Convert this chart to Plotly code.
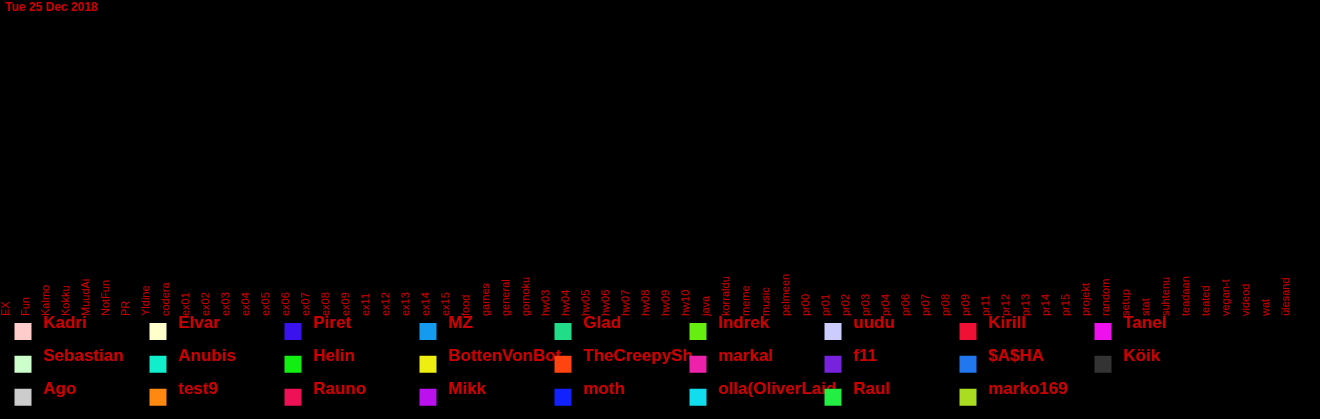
import plotly.graph_objects as go

title_text = "Tue 25 Dec 2018"

categories = [
    "EX", "Fun", "Kalmo", "Kokku", "MuudAi", "NotFun", "PR", "Yldine", "codera",
    "ex01", "ex02", "ex03", "ex04", "ex05", "ex06", "ex07", "ex08", "ex09",
    "ex11", "ex12", "ex13", "ex14", "ex15", "food", "games", "general", "gomoku",
    "hw03", "hw04", "hw05", "hw06", "hw07", "hw08", "hw09", "hw10", "java",
    "korraldu", "meme", "music", "pelmeen", "pr00", "pr01", "pr02", "pr03", "pr04",
    "pr06", "pr07", "pr08", "pr09", "pr11", "pr12", "pr13", "pr14", "pr15",
    "projekt", "random", "setup", "stat", "suhtenu", "teadaan", "teated",
    "vegan-t", "videod", "wat", "ülesand",
]

users = [
    "Kadri", "Elvar", "Piret", "MZ", "Glad", "Indrek", "uudu", "Kirill", "Tanel",
    "Sebastian", "Anubis", "Helin", "BottenVonBot", "TheCreepySh", "markal", "f11", "$A$HA", "Köik",
    "Ago", "test9", "Rauno", "Mikk", "moth", "olla(OliverLaid", "Raul", "marko169",
]

user_colors = [
    "#ffcccc", "#ffffcc", "#3a12ee", "#149bf0", "#22dd88", "#66ee11", "#ccccff", "#ee1133", "#ee11ee",
    "#ccffcc", "#11eecc", "#11ee11", "#eeee11", "#ff4411", "#ee22aa", "#7722dd", "#2277ee", "#333333",
    "#cccccc", "#ff8811", "#ee1155", "#bb11ee", "#1122ff", "#11ddee", "#22ee44", "#aadd22",
]

# Messages per (user, channel) on this day: none were posted
messages = {}

RED = "#cc0000"
FONT = "Liberation Sans, Arial, sans-serif"
AXIS_Y = (419 - 316) / 419

fig = go.Figure()
for name, color in zip(users, user_colors):
    fig.add_trace(go.Bar(
        x=categories, y=[messages.get((name, c), 0) for c in categories],
        name="<span style='font-size:17px'>" + name + "</span><br>\u00a0",
        marker=dict(color=color, line=dict(width=5, color=color)),
    ))

fig.update_layout(
    width=1320, height=419,
    barmode="stack",
    paper_bgcolor="black", plot_bgcolor="black",
    margin=dict(l=0, r=20, t=0, b=0),
    showlegend=True,
    title=dict(text=title_text, x=5 / 1320, xanchor="left", xref="container",
               y=1 - 7 / 419, yanchor="middle", yref="container",
               font=dict(family=FONT, size=12, color=RED, weight="bold")),
    xaxis=dict(
        type="category", categoryorder="array", categoryarray=categories,
        range=[-0.25, len(categories) - 0.25],
        side="top", anchor="free", position=AXIS_Y,
        tickangle=-90, showgrid=False, zeroline=False, showline=False,
        ticks="", tickfont=dict(family=FONT, size=11, color=RED),
    ),
    yaxis=dict(visible=False, range=[0.2, 1], domain=[AXIS_Y, 0.97]),
    legend=dict(
        orientation="h", x=3 / 1300, xanchor="left", y=0, yanchor="bottom",
        traceorder="normal", valign="middle",
        entrywidth=90, entrywidthmode="pixels",
        font=dict(family=FONT, size=11.5, color=RED, weight="bold"),
        bgcolor="rgba(0,0,0,0)", itemclick=False,
    ),
)

fig.write_html(
    "out.html",
    config={"displayModeBar": False},
    post_script="document.body.style.margin='0';document.body.style.background='black';",
)
